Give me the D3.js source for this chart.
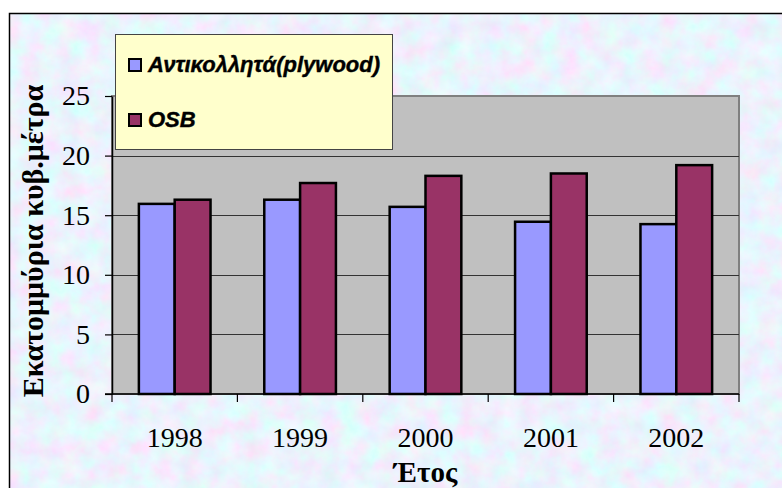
<!DOCTYPE html>
<html>
<head>
<meta charset="utf-8">
<script src="https://cdn.jsdelivr.net/npm/d3@7/dist/d3.min.js"></script>
<style>
  body { margin: 0; background: #fff; }
  svg { display: block; }
</style>
</head>
<body>
<div id="chart"></div>
<script>
// data
var years = ["1998", "1999", "2000", "2001", "2002"];
var plywood = [15.95, 16.3, 15.7, 14.45, 14.25];
var osb = [16.3, 17.7, 18.3, 18.5, 19.2];
var seriesNames = ["Αντικολλητά(plywood)", "OSB"];
var seriesColors = ["#9999FF", "#993366"];
var yTicks = [0, 5, 10, 15, 20, 25];

var W = 782, H = 488;
var plot = {left: 112, right: 739, top: 96, bottom: 394};

var svg = d3.select("#chart").append("svg")
	.attr("width", W)
	.attr("height", H);

var defs = svg.append("defs");

// pastel mottled background like the old Excel texture
var tex = defs.append("filter")
	.attr("id", "paper")
	.attr("x", 0).attr("y", 0)
	.attr("width", "100%").attr("height", "100%");
tex.append("feTurbulence")
	.attr("type", "fractalNoise")
	.attr("baseFrequency", 0.05)
	.attr("numOctaves", 5)
	.attr("seed", 3);
tex.append("feColorMatrix")
	.attr("type", "matrix")
	.attr("values",
		"0.40 -0.20 0 0 0.73 " +
		"-0.20 0.35 0 0 0.82 " +
		"0 0 0.15 0 0.90 " +
		"0 0 0 0 1");

svg.append("rect")
	.attr("x", 9.5)
	.attr("y", 13.5)
	.attr("width", W)
	.attr("height", H)
	.attr("fill", "#dde4fa")
	.attr("filter", "url(#paper)")
	.attr("stroke", "none");
svg.append("path")
	.attr("d", "M9.5," + H + " L9.5,13.5 L" + W + ",13.5")
	.attr("fill", "none")
	.attr("stroke", "#000")
	.attr("stroke-width", 1.5);

var x = d3.scaleBand()
	.domain(years)
	.range([plot.left, plot.right])
	.padding(0);

var xSub = d3.scaleBand()
	.domain([0, 1])
	.range([0, x.bandwidth()])
	.paddingInner(0)
	.paddingOuter(0.75);

var y = d3.scaleLinear()
	.domain([0, 25])
	.range([plot.bottom, plot.top]);

// plot area
svg.append("rect")
	.attr("x", plot.left)
	.attr("y", plot.top)
	.attr("width", plot.right - plot.left)
	.attr("height", plot.bottom - plot.top)
	.attr("fill", "#C0C0C0")
	.attr("stroke", "#808080")
	.attr("stroke-width", 2);

// gridlines
svg.append("g")
	.selectAll("line")
	.data(yTicks.filter(function(d){ return d > 0 && d < 25; }))
	.enter().append("line")
	.attr("x1", plot.left)
	.attr("x2", plot.right)
	.attr("y1", function(d){ return Math.round(y(d)) + 0.5; })
	.attr("y2", function(d){ return Math.round(y(d)) + 0.5; })
	.attr("stroke", "#333")
	.attr("stroke-width", 1);

// bars
var rows = years.map(function(yr, i){
	return {year: yr, vals: [plywood[i], osb[i]]};
});

var groups = svg.append("g")
	.selectAll("g")
	.data(rows)
	.enter().append("g")
	.attr("transform", function(d){ return "translate(" + x(d.year) + ",0)"; });

groups.selectAll("rect")
	.data(function(d){ return d.vals.map(function(v, k){ return {k: k, v: v}; }); })
	.enter().append("rect")
	.attr("x", function(d){ return xSub(d.k); })
	.attr("y", function(d){ return y(d.v); })
	.attr("width", xSub.bandwidth())
	.attr("height", function(d){ return y(0) - y(d.v); })
	.attr("fill", function(d){ return seriesColors[d.k]; })
	.attr("stroke", "#000")
	.attr("stroke-width", 2.5);

// y axis
var yAxis = svg.append("g")
	.attr("transform", "translate(" + plot.left + ",0)")
	.call(d3.axisLeft(y).tickValues(yTicks).tickSize(7).tickSizeOuter(0).tickPadding(15));
yAxis.select(".domain").attr("stroke", "#000").attr("stroke-width", 1.5);
yAxis.selectAll(".tick line").attr("stroke", "#000").attr("stroke-width", 1.2);
yAxis.selectAll("text")
	.attr("font-family", "Liberation Serif, Times New Roman, serif")
	.attr("font-size", 28)
	.attr("fill", "#000");

// x axis
var xAxis = svg.append("g")
	.attr("transform", "translate(0," + plot.bottom + ")")
	.call(d3.axisBottom(x).tickSize(0).tickSizeOuter(0));
xAxis.select(".domain").remove();
xAxis.selectAll("text")
	.attr("y", 53)
	.attr("dy", null)
	.attr("font-family", "Liberation Serif, Times New Roman, serif")
	.attr("font-size", 28)
	.attr("fill", "#000");

svg.append("line")
	.attr("x1", plot.left - 7)
	.attr("x2", plot.right)
	.attr("y1", plot.bottom)
	.attr("y2", plot.bottom)
	.attr("stroke", "#000")
	.attr("stroke-width", 1.5);

var bounds = years.map(function(d){ return x(d); }).concat([x.range()[1]]);
svg.append("g")
	.selectAll("line")
	.data(bounds)
	.enter().append("line")
	.attr("x1", function(d){ return d; })
	.attr("x2", function(d){ return d; })
	.attr("y1", plot.bottom)
	.attr("y2", plot.bottom + 8)
	.attr("stroke", "#000")
	.attr("stroke-width", 1.2);

// axis titles
svg.append("text")
	.attr("transform", "translate(43," + ((plot.top + plot.bottom) / 2 - 4) + ") rotate(-90)")
	.attr("text-anchor", "middle")
	.attr("font-family", "Liberation Serif, Times New Roman, serif")
	.attr("font-weight", "bold")
	.attr("font-size", 30)
	.text("Εκατομμύρια κυβ.μέτρα");

svg.append("text")
	.attr("x", (plot.left + plot.right) / 2)
	.attr("y", 482)
	.attr("text-anchor", "middle")
	.attr("font-family", "Liberation Serif, Times New Roman, serif")
	.attr("font-weight", "bold")
	.attr("font-size", 29)
	.text("Έτος");

// legend
var legend = svg.append("g").attr("transform", "translate(115,34)");
legend.append("rect")
	.attr("x", 0.5)
	.attr("y", 0.5)
	.attr("width", 277)
	.attr("height", 115)
	.attr("fill", "#FFFFCC")
	.attr("stroke", "#444")
	.attr("stroke-width", 1);

var items = legend.selectAll("g.item")
	.data(seriesNames)
	.enter().append("g")
	.attr("class", "item")
	.attr("transform", function(d, i){ return "translate(0," + (i * 55) + ")"; });

items.append("rect")
	.attr("x", 14)
	.attr("y", 25)
	.attr("width", 12)
	.attr("height", 12)
	.attr("fill", function(d, i){ return seriesColors[i]; })
	.attr("stroke", "#000")
	.attr("stroke-width", 2);

items.append("text")
	.attr("x", 33)
	.attr("y", 38)
	.attr("font-family", "Liberation Sans, Arial, sans-serif")
	.attr("font-weight", "bold")
	.attr("font-style", "italic")
	.attr("font-size", 22)
	.attr("stroke", "#000")
	.attr("stroke-width", 0.4)
	.text(function(d){ return d; });
</script>
</body>
</html>
